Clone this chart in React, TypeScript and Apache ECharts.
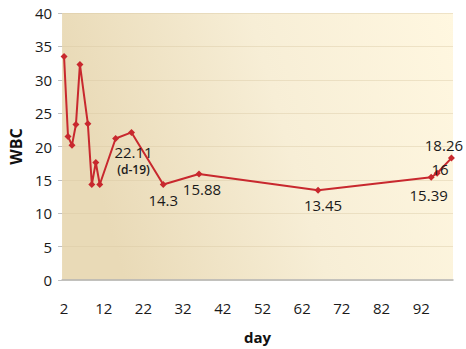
import React, { useEffect, useRef } from "react";
import * as echarts from "echarts";

const days = [2, 3, 4, 5, 6, 8, 9, 10, 11, 15, 19, 27, 36, 66, 94.5, 96, 99.6];
const wbc = [33.5, 21.5, 20.2, 23.3, 32.3, 23.4, 14.3, 17.6, 14.3, 21.2, 22.11, 14.3, 15.88, 13.45, 15.39, 16, 18.26];
const pointLabels: (string | null)[] = [
  null, null, null, null, null, null, null, null, null, null,
  "{a|22.11}\n{b|(d-19)}", "14.3", "15.88", "13.45", "15.39", "16", "18.26",
];
const labelOffsets: number[][] = [
  [0, 0], [0, 0], [0, 0], [0, 0], [0, 0], [0, 0], [0, 0], [0, 0], [0, 0], [0, 0],
  [2, 28], [0, 15], [3, 15], [5, 15], [-2.5, 18], [3, -4], [-7.5, -13],
];
const xTickLabels = [2, 12, 22, 32, 42, 52, 62, 72, 82, 92];

const FONT = "'Open Sans', sans-serif";

export default function App() {
  const ref = useRef<HTMLDivElement>(null);
  useEffect(() => {
    if (!ref.current) return;
    const chart = echarts.init(ref.current, null, { renderer: "svg" });
    const data = days.map((d, i) => {
      const lab = pointLabels[i];
      return {
        value: [d, wbc[i]],
        label: lab
          ? {
              show: true,
              position: "inside",
              offset: labelOffsets[i],
              formatter: lab,
              color: "#1a1a1a",
              fontFamily: FONT,
              fontSize: 15,
              align: "center",
              verticalAlign: "middle",
              rich: {
                a: { fontFamily: FONT, fontSize: 15, color: "#1a1a1a", lineHeight: 19 },
                b: { fontFamily: FONT, fontSize: 12, color: "#1a1a1a", fontWeight: 600, lineHeight: 16 },
              },
            }
          : { show: false },
      };
    });
    chart.setOption({
      animation: false,
      backgroundColor: "#ffffff",
      grid: {
        left: 59,
        right: 13,
        top: 13,
        bottom: 66,
        show: true,
        borderWidth: 0,
        backgroundColor: {
          type: "linear",
          x: 0, y: 0.2, x2: 1, y2: 0,
          colorStops: [
            { offset: 0, color: "#e9dab7" },
            { offset: 0.5, color: "#f7eed6" },
            { offset: 1, color: "#fff7e0" },
          ],
        },
      },
      xAxis: {
        type: "value",
        min: 1.5,
        max: 100,
        name: "day",
        nameLocation: "middle",
        nameGap: 49,
        nameTextStyle: { fontFamily: FONT, fontSize: 15, fontWeight: "bold", color: "#111" },
        axisLine: { show: true, lineStyle: { color: "#b4b4b4", width: 1.5 } },
        axisTick: { show: false },
        splitLine: { show: false },
        axisLabel: {
          customValues: xTickLabels,
          margin: 20,
          fontFamily: FONT,
          fontSize: 15,
          color: "#1a1a1a",
        },
      },
      yAxis: {
        type: "value",
        min: 0,
        max: 40,
        interval: 5,
        name: "WBC",
        nameLocation: "middle",
        nameGap: 33,
        nameRotate: 90,
        nameTextStyle: { fontFamily: FONT, fontSize: 16, fontWeight: "bold", color: "#111" },
        axisLine: { show: false },
        axisTick: { show: true, length: 4, lineStyle: { color: "#c0c0c0" } },
        splitLine: { show: true, lineStyle: { color: "rgba(215,198,160,0.4)", width: 1 } },
        axisLabel: {
          margin: 10,
          fontFamily: FONT,
          fontSize: 15,
          color: "#1a1a1a",
        },
      },
      series: [
        {
          type: "line",
          data,
          symbol: "diamond",
          symbolSize: 7,
          lineStyle: { color: "#c8282e", width: 2 },
          itemStyle: { color: "#c8282e" },
          z: 3,
        },
      ],
    });
    return () => chart.dispose();
  }, []);
  return (
    <div
      ref={ref}
      style={{ position: "fixed", left: 0, top: 0, width: 466, height: 349 }}
    />
  );
}
